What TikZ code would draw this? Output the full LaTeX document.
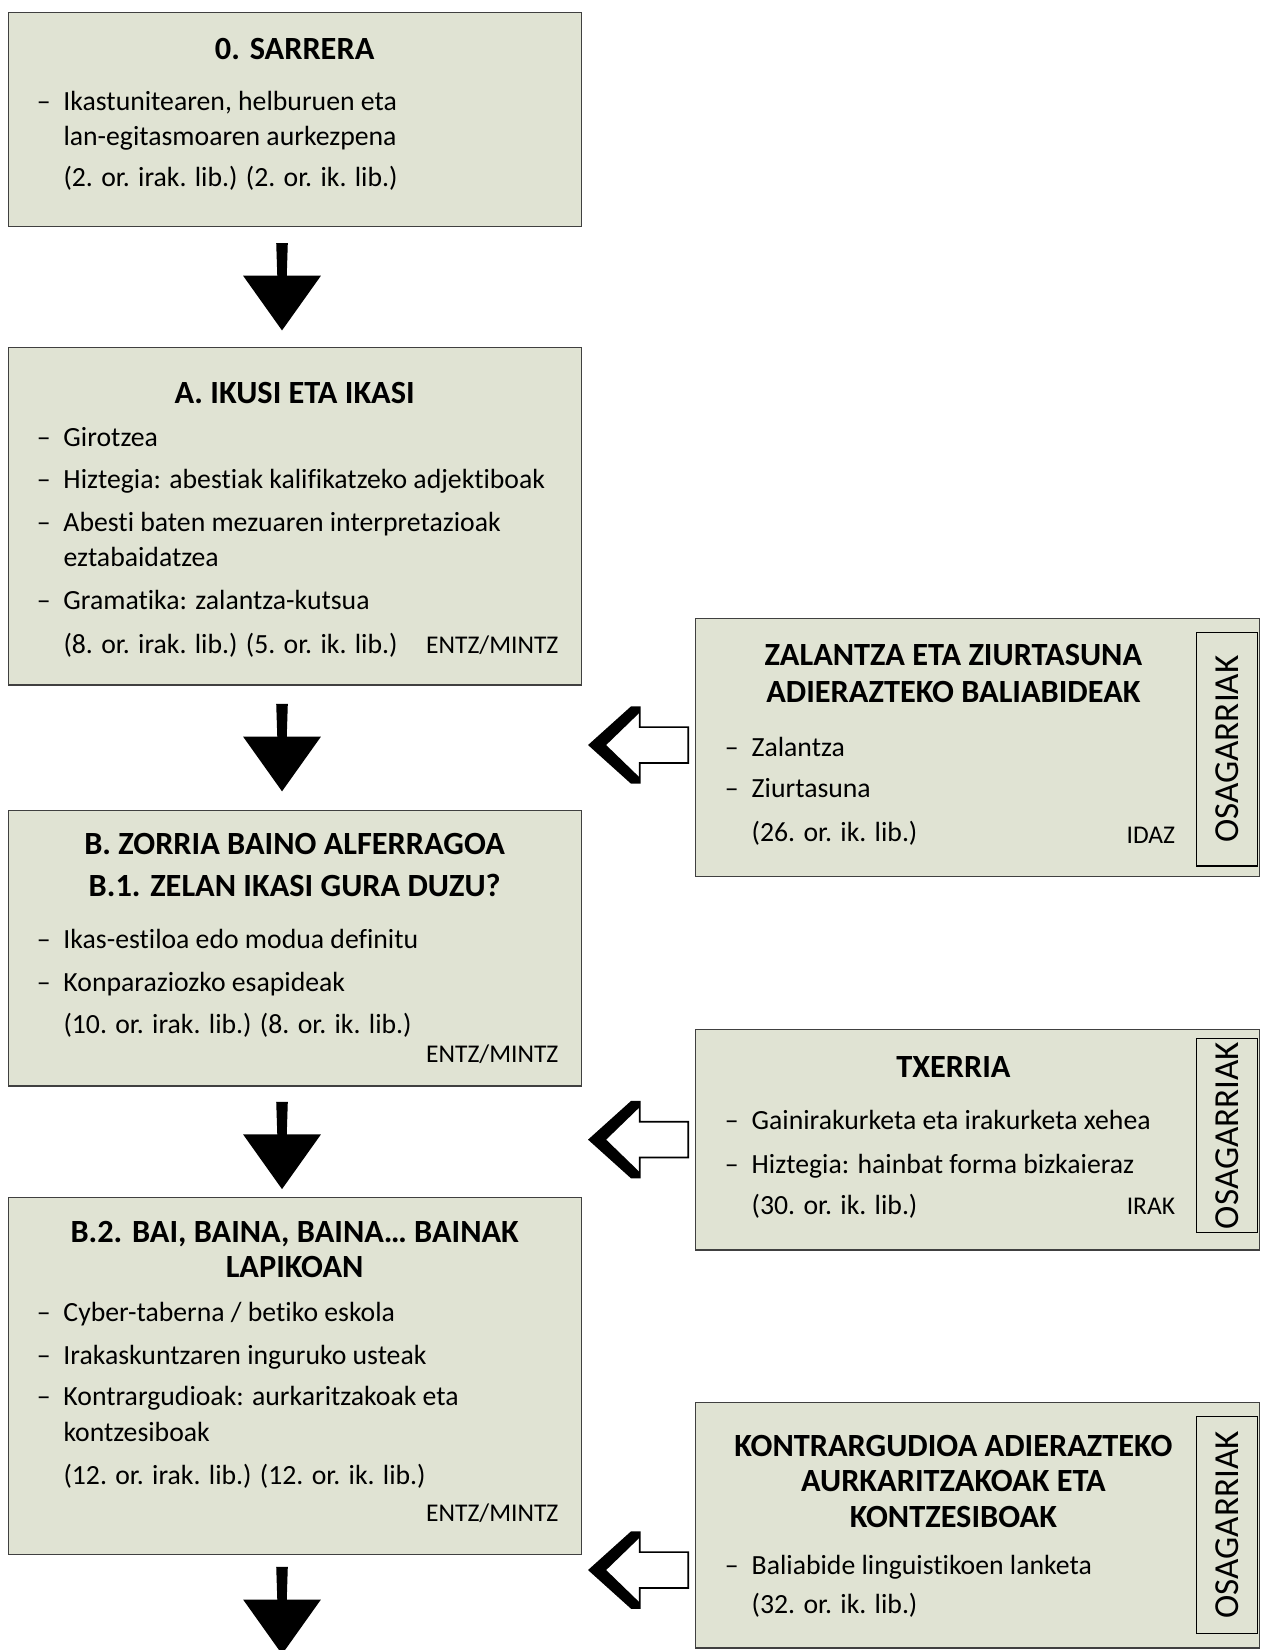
\documentclass[tikz,border=0pt]{standalone}
\usepackage{fontspec}
\setmainfont{Carlito}[Ligatures={NoCommon}]
\usepackage{tikz}
\definecolor{boxfill}{RGB}{224,227,211}
\tikzset{
	box/.style    = {draw=black!75, fill=boxfill, line width=0.7pt, rectangle,
		anchor=north west, inner sep=0, outer sep=0},
	title/.style  = {anchor=base, inner sep=0, font=\fontsize{17.5}{20}\selectfont\bfseries},
	txt/.style    = {anchor=base west, inner sep=0, font=\fontsize{15}{18}\selectfont},
	skill/.style  = {anchor=base east, inner sep=0, font=\fontsize{13.8}{16}\selectfont},
	osag/.style   = {draw, line width=0.7pt, rectangle, rotate=90, inner sep=0,
		minimum height=1.16cm, font=\fontsize{19}{22}\selectfont},
	downarrow/.pic = {\fill (-5.5,-31) -- (5.5,-31) -- (4.5,0) -- (37,0) -- (0,52)
		-- (-37,0) -- (-4.5,0) -- cycle;},
	leftarrow/.pic = {\filldraw[fill=white, line width=0.9pt] (0,0) -- (40,-36) -- (48,-36)
		-- (48,-17) -- (94,-17) -- (94,17) -- (48,17) -- (48,36) -- (40,36) -- cycle;
		\fill (0,0) -- (40,-36) -- (48,-36) -- (48,-31) -- (16,0) -- (48,31)
		-- (48,36) -- (40,36) -- cycle;}
}
\newcommand{\itm}{\llap{–\hspace{7pt}}}

\begin{document}
\begin{tikzpicture}[x=0.02cm, y=-0.02cm]
	\useasboundingbox (0,0) rectangle (1198,1568);

	% main column
	\draw
	node at (8,12) [box, minimum width=10.9cm, minimum height=4.06cm] (s0) {}
	node at (280,57) [title] (s0t) {0. SARRERA}
	node at (60,105) [txt] (s0a) {\itm Ikastunitearen, helburuen eta}
	node at (60,138) [txt] (s0b) {lan-egitasmoaren aurkezpena}
	node at (60,177) [txt] (s0c) {(2. or. irak. lib.) (2. or. ik. lib.)};

	\draw
	node at (8,330) [box, minimum width=10.9cm, minimum height=6.42cm] (sa) {}
	node at (280,383) [title] (sat) {A. IKUSI ETA IKASI}
	node at (60,424) [txt] (saa) {\itm Girotzea}
	node at (60,464) [txt] (sab) {\itm Hiztegia: abestiak kalifikatzeko adjektiboak}
	node at (60,505) [txt] (sac) {\itm Abesti baten mezuaren interpretazioak}
	node at (60,538) [txt] (sad) {eztabaidatzea}
	node at (60,579) [txt] (sae) {\itm Gramatika: zalantza-kutsua}
	node at (60,621) [txt] (saf) {(8. or. irak. lib.) (5. or. ik. lib.)}
	node at (531,621) [skill] (sag) {ENTZ/MINTZ};

	\draw
	node at (8,770) [box, minimum width=10.9cm, minimum height=5.24cm] (sb) {}
	node at (280,812) [title] (sbt) {B. ZORRIA BAINO ALFERRAGOA}
	node at (280,852) [title] (sbu) {B.1. ZELAN IKASI GURA DUZU?}
	node at (60,901) [txt] (sba) {\itm Ikas-estiloa edo modua definitu}
	node at (60,942) [txt] (sbb) {\itm Konparaziozko esapideak}
	node at (60,982) [txt] (sbc) {(10. or. irak. lib.) (8. or. ik. lib.)}
	node at (531,1010) [skill] (sbd) {ENTZ/MINTZ};

	\draw
	node at (8,1138) [box, minimum width=10.9cm, minimum height=6.78cm] (sc) {}
	node at (280,1181) [title] (sct) {B.2. BAI, BAINA, BAINA… BAINAK}
	node at (280,1214) [title] (scu) {LAPIKOAN}
	node at (60,1256) [txt] (sca) {\itm Cyber-taberna / betiko eskola}
	node at (60,1297) [txt] (scb) {\itm Irakaskuntzaren inguruko usteak}
	node at (60,1336) [txt] (scc) {\itm Kontrargudioak: aurkaritzakoak eta}
	node at (60,1370) [txt] (scd) {kontzesiboak}
	node at (60,1411) [txt] (sce) {(12. or. irak. lib.) (12. or. ik. lib.)}
	node at (531,1446) [skill] (scf) {ENTZ/MINTZ};

	% side boxes
	\draw
	node at (661,588) [box, minimum width=10.72cm, minimum height=4.9cm] (r1) {}
	node at (906,632) [title] (r1t) {ZALANTZA ETA ZIURTASUNA}
	node at (906,668) [title] (r1u) {ADIERAZTEKO BALIABIDEAK}
	node at (714,719) [txt] (r1a) {\itm Zalantza}
	node at (714,758) [txt] (r1b) {\itm Ziurtasuna}
	node at (714,800) [txt] (r1c) {(26. or. ik. lib.)}
	node at (1117,802) [skill] (r1d) {IDAZ}
	node at (1166,712) [osag, minimum width=4.44cm] (o1) {OSAGARRIAK};

	\draw
	node at (661,978) [box, minimum width=10.72cm, minimum height=4.2cm] (r2) {}
	node at (906,1024) [title] (r2t) {TXERRIA}
	node at (714,1073) [txt] (r2a) {\itm Gainirakurketa eta irakurketa xehea}
	node at (714,1115) [txt] (r2b) {\itm Hiztegia: hainbat forma bizkaieraz}
	node at (714,1154) [txt] (r2c) {(30. or. ik. lib.)}
	node at (1117,1154) [skill] (r2d) {IRAK}
	node at (1166,1079) [osag, minimum width=3.68cm] (o2) {OSAGARRIAK};

	\draw
	node at (661,1333) [box, minimum width=10.72cm, minimum height=4.66cm] (r3) {}
	node at (906,1384) [title] (r3t) {KONTRARGUDIOA ADIERAZTEKO}
	node at (906,1417) [title] (r3u) {AURKARITZAKOAK ETA}
	node at (906,1452) [title] (r3v) {KONTZESIBOAK}
	node at (714,1496) [txt] (r3a) {\itm Baliabide linguistikoen lanketa}
	node at (714,1533) [txt] (r3b) {(32. or. ik. lib.)}
	node at (1166,1449) [osag, minimum width=4.12cm] (o3) {OSAGARRIAK};

	% arrows
	\pic at (268,262) {downarrow};
	\pic at (268,700) {downarrow};
	\pic at (268,1078) {downarrow};
	\pic at (268,1520) {downarrow};
	\pic at (560,708) {leftarrow};
	\pic at (560,1083) {leftarrow};
	\pic at (560,1492) {leftarrow};
\end{tikzpicture}
\end{document}
